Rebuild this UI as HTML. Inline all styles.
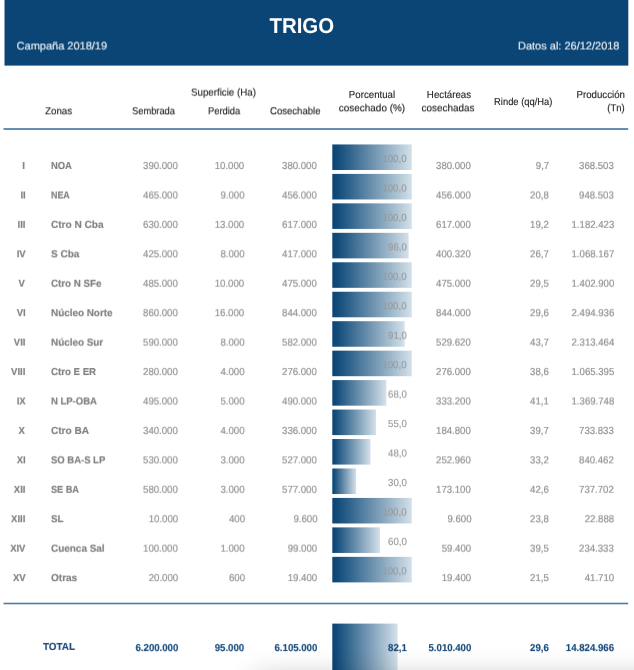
<!DOCTYPE html>
<html lang="es"><head><meta charset="utf-8"><title>TRIGO</title>
<style>
html,body{margin:0;padding:0;background:#fff;}
body{width:634px;height:670px;position:relative;overflow:hidden;text-rendering:geometricPrecision;font-family:"Liberation Sans",Arial,sans-serif;}
.bg{position:absolute;left:0;top:0;}
.txt{position:absolute;left:0;top:0;width:634px;height:670px;filter:blur(0.5px);}
.row{position:absolute;left:0;width:634px;height:14px;will-change:transform;}
.t{position:absolute;top:0;white-space:nowrap;line-height:14px;height:14px;font-size:10.2px;}
.title{left:0;width:603.6px;text-align:center;top:13.6px;font-size:21.4px;line-height:24px;height:24px;font-weight:bold;color:#fff;transform:scaleX(0.955);}
.sub{font-size:11px;color:#dfe7ee;-webkit-text-stroke:0.2px #dfe7ee;}
.h{color:#222;-webkit-text-stroke:0.12px #222;}
.d{color:#939393;-webkit-text-stroke:0.2px #939393;}
.bv{color:#999;-webkit-text-stroke:0.15px #999;}
.z{font-weight:bold;color:#7e7e7e;-webkit-text-stroke:0.15px #7e7e7e;}
.tot{font-weight:bold;color:#194b7b;-webkit-text-stroke:0.15px #194b7b;}
.shadow{position:absolute;left:255px;top:680px;width:600px;height:40px;box-shadow:0 0 30px rgba(0,0,0,0.3);}
</style></head><body>
<svg class="bg" width="634" height="670" viewBox="0 0 634 670"><defs><linearGradient id="g" x1="0" y1="0" x2="1" y2="0"><stop offset="0" stop-color="#0a4575"/><stop offset="0.06" stop-color="#0f4a79"/><stop offset="1" stop-color="#d4e1ea"/></linearGradient></defs>
<rect x="4.5" y="0" width="623.8" height="65.6" fill="#0a4575"/>
<rect x="3.5" y="128" width="624.7" height="2" fill="#6690b3"/>
<rect x="332.3" y="144.45" width="79.50" height="25.55" fill="url(#g)"/>
<rect x="332.3" y="173.91" width="79.50" height="25.55" fill="url(#g)"/>
<rect x="332.3" y="203.36" width="79.50" height="25.55" fill="url(#g)"/>
<rect x="332.3" y="232.82" width="76.32" height="25.55" fill="url(#g)"/>
<rect x="332.3" y="262.28" width="79.50" height="25.55" fill="url(#g)"/>
<rect x="332.3" y="291.74" width="79.50" height="25.55" fill="url(#g)"/>
<rect x="332.3" y="321.19" width="72.34" height="25.55" fill="url(#g)"/>
<rect x="332.3" y="350.65" width="79.50" height="25.55" fill="url(#g)"/>
<rect x="332.3" y="380.11" width="54.06" height="25.55" fill="url(#g)"/>
<rect x="332.3" y="409.56" width="43.73" height="25.55" fill="url(#g)"/>
<rect x="332.3" y="439.02" width="38.16" height="25.55" fill="url(#g)"/>
<rect x="332.3" y="468.48" width="23.85" height="25.55" fill="url(#g)"/>
<rect x="332.3" y="497.93" width="79.50" height="25.55" fill="url(#g)"/>
<rect x="332.3" y="527.39" width="47.70" height="25.55" fill="url(#g)"/>
<rect x="332.3" y="556.85" width="79.50" height="25.55" fill="url(#g)"/>
<rect x="3.5" y="602.7" width="624.7" height="1.6" fill="#4d7ca5"/>
<rect x="332.3" y="623.6" width="65.27" height="50" fill="url(#g)"/>
</svg>
<div class="txt">
<div class="t title">TRIGO</div>
<div class="row" style="top:39px;transform:translateY(0.50px) scale(0.9999)">
<div class="t sub" style="left:16.60px;transform-origin:0 50%;">Campaña 2018/19</div>
<div class="t sub" style="right:14.50px;transform-origin:100% 50%;">Datos al: 26/12/2018</div>
</div>
<div class="row" style="top:105px;transform:translateY(0.30px) scale(0.9999)">
<div class="t h" style="left:45.00px;transform-origin:0 50%;transform:scaleX(0.9595);">Zonas</div>
<div class="t h" style="left:132.20px;transform-origin:0 50%;transform:scaleX(0.9137);">Sembrada</div>
<div class="t h" style="left:208.10px;transform-origin:0 50%;transform:scaleX(0.9159);">Perdida</div>
<div class="t h" style="left:269.50px;transform-origin:0 50%;transform:scaleX(0.9375);">Cosechable</div>
</div>
<div class="row" style="top:86px;transform:translateY(0.60px) scale(0.9999)">
<div class="t h" style="left:190.60px;transform-origin:0 50%;transform:scaleX(0.9555);">Superficie (Ha)</div>
</div>
<div class="row" style="top:88px;transform:translateY(0.90px) scale(0.9999)">
<div class="t h" style="left:272.00px;width:200px;text-align:center;transform-origin:50% 50%;transform:scaleX(0.9495);">Porcentual</div>
<div class="t h" style="left:348.60px;width:200px;text-align:center;transform-origin:50% 50%;transform:scaleX(0.9529);">Hectáreas</div>
<div class="t h" style="right:9.40px;transform-origin:100% 50%;transform:scaleX(0.9524);">Producción</div>
</div>
<div class="row" style="top:102px;transform:translateY(0.30px) scale(0.9999)">
<div class="t h" style="left:271.50px;width:200px;text-align:center;transform-origin:50% 50%;transform:scaleX(0.9760);">cosechado (%)</div>
<div class="t h" style="left:347.90px;width:200px;text-align:center;transform-origin:50% 50%;transform:scaleX(0.9736);">cosechadas</div>
<div class="t h" style="right:9.40px;transform-origin:100% 50%;transform:scaleX(0.9306);">(Tn)</div>
</div>
<div class="row" style="top:96px;transform:translateY(0.00px) scale(0.9999)">
<div class="t h" style="right:81.40px;transform-origin:100% 50%;transform:scaleX(0.9197);">Rinde (qq/Ha)</div>
</div>
<div class="row" style="top:160px;transform:translateY(0.00px) scale(0.9999)">
<div class="t z" style="right:608.80px;transform-origin:100% 50%;transform:scaleX(0.9300);">I</div>
<div class="t z" style="left:50.60px;transform-origin:0 50%;transform:scaleX(0.9177);">NOA</div>
<div class="t d" style="right:456.10px;transform-origin:100% 50%;transform:scaleX(0.9450);">390.000</div>
<div class="t d" style="right:389.50px;transform-origin:100% 50%;transform:scaleX(0.9450);">10.000</div>
<div class="t d" style="right:316.90px;transform-origin:100% 50%;transform:scaleX(0.9450);">380.000</div>
<div class="t d" style="right:162.80px;transform-origin:100% 50%;transform:scaleX(0.9450);">380.000</div>
<div class="t d" style="right:85.30px;transform-origin:100% 50%;transform:scaleX(0.9450);">9,7</div>
<div class="t d" style="right:20.00px;transform-origin:100% 50%;transform:scaleX(0.9450);">368.503</div>
</div>
<div class="row" style="top:152px;transform:translateY(0.95px) scale(0.9999)">
<div class="t bv" style="right:227.20px;transform-origin:100% 50%;transform:scaleX(0.9450);">100,0</div>
</div>
<div class="row" style="top:189px;transform:translateY(0.44px) scale(0.9999)">
<div class="t z" style="right:608.80px;transform-origin:100% 50%;transform:scaleX(0.9300);">II</div>
<div class="t z" style="left:50.60px;transform-origin:0 50%;transform:scaleX(0.8730);">NEA</div>
<div class="t d" style="right:456.10px;transform-origin:100% 50%;transform:scaleX(0.9450);">465.000</div>
<div class="t d" style="right:389.50px;transform-origin:100% 50%;transform:scaleX(0.9450);">9.000</div>
<div class="t d" style="right:316.90px;transform-origin:100% 50%;transform:scaleX(0.9450);">456.000</div>
<div class="t d" style="right:162.80px;transform-origin:100% 50%;transform:scaleX(0.9450);">456.000</div>
<div class="t d" style="right:85.30px;transform-origin:100% 50%;transform:scaleX(0.9450);">20,8</div>
<div class="t d" style="right:20.00px;transform-origin:100% 50%;transform:scaleX(0.9450);">948.503</div>
</div>
<div class="row" style="top:182px;transform:translateY(0.41px) scale(0.9999)">
<div class="t bv" style="right:227.20px;transform-origin:100% 50%;transform:scaleX(0.9450);">100,0</div>
</div>
<div class="row" style="top:218px;transform:translateY(0.87px) scale(0.9999)">
<div class="t z" style="right:608.80px;transform-origin:100% 50%;transform:scaleX(0.9300);">III</div>
<div class="t z" style="left:50.60px;transform-origin:0 50%;transform:scaleX(0.9875);">Ctro N Cba</div>
<div class="t d" style="right:456.10px;transform-origin:100% 50%;transform:scaleX(0.9450);">630.000</div>
<div class="t d" style="right:389.50px;transform-origin:100% 50%;transform:scaleX(0.9450);">13.000</div>
<div class="t d" style="right:316.90px;transform-origin:100% 50%;transform:scaleX(0.9450);">617.000</div>
<div class="t d" style="right:162.80px;transform-origin:100% 50%;transform:scaleX(0.9450);">617.000</div>
<div class="t d" style="right:85.30px;transform-origin:100% 50%;transform:scaleX(0.9450);">19,2</div>
<div class="t d" style="right:20.00px;transform-origin:100% 50%;transform:scaleX(0.9450);">1.182.423</div>
</div>
<div class="row" style="top:211px;transform:translateY(0.86px) scale(0.9999)">
<div class="t bv" style="right:227.20px;transform-origin:100% 50%;transform:scaleX(0.9450);">100,0</div>
</div>
<div class="row" style="top:248px;transform:translateY(0.31px) scale(0.9999)">
<div class="t z" style="right:608.80px;transform-origin:100% 50%;transform:scaleX(0.9300);">IV</div>
<div class="t z" style="left:50.60px;transform-origin:0 50%;transform:scaleX(0.9825);">S Cba</div>
<div class="t d" style="right:456.10px;transform-origin:100% 50%;transform:scaleX(0.9450);">425.000</div>
<div class="t d" style="right:389.50px;transform-origin:100% 50%;transform:scaleX(0.9450);">8.000</div>
<div class="t d" style="right:316.90px;transform-origin:100% 50%;transform:scaleX(0.9450);">417.000</div>
<div class="t d" style="right:162.80px;transform-origin:100% 50%;transform:scaleX(0.9450);">400.320</div>
<div class="t d" style="right:85.30px;transform-origin:100% 50%;transform:scaleX(0.9450);">26,7</div>
<div class="t d" style="right:20.00px;transform-origin:100% 50%;transform:scaleX(0.9450);">1.068.167</div>
</div>
<div class="row" style="top:241px;transform:translateY(0.32px) scale(0.9999)">
<div class="t bv" style="right:227.20px;transform-origin:100% 50%;transform:scaleX(0.9450);">96,0</div>
</div>
<div class="row" style="top:277px;transform:translateY(0.74px) scale(0.9999)">
<div class="t z" style="right:608.80px;transform-origin:100% 50%;transform:scaleX(0.9300);">V</div>
<div class="t z" style="left:50.60px;transform-origin:0 50%;transform:scaleX(0.9582);">Ctro N SFe</div>
<div class="t d" style="right:456.10px;transform-origin:100% 50%;transform:scaleX(0.9450);">485.000</div>
<div class="t d" style="right:389.50px;transform-origin:100% 50%;transform:scaleX(0.9450);">10.000</div>
<div class="t d" style="right:316.90px;transform-origin:100% 50%;transform:scaleX(0.9450);">475.000</div>
<div class="t d" style="right:162.80px;transform-origin:100% 50%;transform:scaleX(0.9450);">475.000</div>
<div class="t d" style="right:85.30px;transform-origin:100% 50%;transform:scaleX(0.9450);">29,5</div>
<div class="t d" style="right:20.00px;transform-origin:100% 50%;transform:scaleX(0.9450);">1.402.900</div>
</div>
<div class="row" style="top:270px;transform:translateY(0.78px) scale(0.9999)">
<div class="t bv" style="right:227.20px;transform-origin:100% 50%;transform:scaleX(0.9450);">100,0</div>
</div>
<div class="row" style="top:307px;transform:translateY(0.18px) scale(0.9999)">
<div class="t z" style="right:608.80px;transform-origin:100% 50%;transform:scaleX(0.9300);">VI</div>
<div class="t z" style="left:50.60px;transform-origin:0 50%;transform:scaleX(0.9704);">Núcleo Norte</div>
<div class="t d" style="right:456.10px;transform-origin:100% 50%;transform:scaleX(0.9450);">860.000</div>
<div class="t d" style="right:389.50px;transform-origin:100% 50%;transform:scaleX(0.9450);">16.000</div>
<div class="t d" style="right:316.90px;transform-origin:100% 50%;transform:scaleX(0.9450);">844.000</div>
<div class="t d" style="right:162.80px;transform-origin:100% 50%;transform:scaleX(0.9450);">844.000</div>
<div class="t d" style="right:85.30px;transform-origin:100% 50%;transform:scaleX(0.9450);">29,6</div>
<div class="t d" style="right:20.00px;transform-origin:100% 50%;transform:scaleX(0.9450);">2.494.936</div>
</div>
<div class="row" style="top:300px;transform:translateY(0.24px) scale(0.9999)">
<div class="t bv" style="right:227.20px;transform-origin:100% 50%;transform:scaleX(0.9450);">100,0</div>
</div>
<div class="row" style="top:336px;transform:translateY(0.62px) scale(0.9999)">
<div class="t z" style="right:608.80px;transform-origin:100% 50%;transform:scaleX(0.9300);">VII</div>
<div class="t z" style="left:50.60px;transform-origin:0 50%;transform:scaleX(0.9695);">Núcleo Sur</div>
<div class="t d" style="right:456.10px;transform-origin:100% 50%;transform:scaleX(0.9450);">590.000</div>
<div class="t d" style="right:389.50px;transform-origin:100% 50%;transform:scaleX(0.9450);">8.000</div>
<div class="t d" style="right:316.90px;transform-origin:100% 50%;transform:scaleX(0.9450);">582.000</div>
<div class="t d" style="right:162.80px;transform-origin:100% 50%;transform:scaleX(0.9450);">529.620</div>
<div class="t d" style="right:85.30px;transform-origin:100% 50%;transform:scaleX(0.9450);">43,7</div>
<div class="t d" style="right:20.00px;transform-origin:100% 50%;transform:scaleX(0.9450);">2.313.464</div>
</div>
<div class="row" style="top:329px;transform:translateY(0.69px) scale(0.9999)">
<div class="t bv" style="right:227.20px;transform-origin:100% 50%;transform:scaleX(0.9450);">91,0</div>
</div>
<div class="row" style="top:366px;transform:translateY(0.05px) scale(0.9999)">
<div class="t z" style="right:608.80px;transform-origin:100% 50%;transform:scaleX(0.9300);">VIII</div>
<div class="t z" style="left:50.60px;transform-origin:0 50%;transform:scaleX(0.9474);">Ctro E ER</div>
<div class="t d" style="right:456.10px;transform-origin:100% 50%;transform:scaleX(0.9450);">280.000</div>
<div class="t d" style="right:389.50px;transform-origin:100% 50%;transform:scaleX(0.9450);">4.000</div>
<div class="t d" style="right:316.90px;transform-origin:100% 50%;transform:scaleX(0.9450);">276.000</div>
<div class="t d" style="right:162.80px;transform-origin:100% 50%;transform:scaleX(0.9450);">276.000</div>
<div class="t d" style="right:85.30px;transform-origin:100% 50%;transform:scaleX(0.9450);">38,6</div>
<div class="t d" style="right:20.00px;transform-origin:100% 50%;transform:scaleX(0.9450);">1.065.395</div>
</div>
<div class="row" style="top:359px;transform:translateY(0.15px) scale(0.9999)">
<div class="t bv" style="right:227.20px;transform-origin:100% 50%;transform:scaleX(0.9450);">100,0</div>
</div>
<div class="row" style="top:395px;transform:translateY(0.49px) scale(0.9999)">
<div class="t z" style="right:608.80px;transform-origin:100% 50%;transform:scaleX(0.9300);">IX</div>
<div class="t z" style="left:50.60px;transform-origin:0 50%;transform:scaleX(0.9311);">N LP-OBA</div>
<div class="t d" style="right:456.10px;transform-origin:100% 50%;transform:scaleX(0.9450);">495.000</div>
<div class="t d" style="right:389.50px;transform-origin:100% 50%;transform:scaleX(0.9450);">5.000</div>
<div class="t d" style="right:316.90px;transform-origin:100% 50%;transform:scaleX(0.9450);">490.000</div>
<div class="t d" style="right:162.80px;transform-origin:100% 50%;transform:scaleX(0.9450);">333.200</div>
<div class="t d" style="right:85.30px;transform-origin:100% 50%;transform:scaleX(0.9450);">41,1</div>
<div class="t d" style="right:20.00px;transform-origin:100% 50%;transform:scaleX(0.9450);">1.369.748</div>
</div>
<div class="row" style="top:388px;transform:translateY(0.61px) scale(0.9999)">
<div class="t bv" style="right:227.20px;transform-origin:100% 50%;transform:scaleX(0.9450);">68,0</div>
</div>
<div class="row" style="top:424px;transform:translateY(0.92px) scale(0.9999)">
<div class="t z" style="right:608.80px;transform-origin:100% 50%;transform:scaleX(0.9300);">X</div>
<div class="t z" style="left:50.60px;transform-origin:0 50%;transform:scaleX(0.9863);">Ctro BA</div>
<div class="t d" style="right:456.10px;transform-origin:100% 50%;transform:scaleX(0.9450);">340.000</div>
<div class="t d" style="right:389.50px;transform-origin:100% 50%;transform:scaleX(0.9450);">4.000</div>
<div class="t d" style="right:316.90px;transform-origin:100% 50%;transform:scaleX(0.9450);">336.000</div>
<div class="t d" style="right:162.80px;transform-origin:100% 50%;transform:scaleX(0.9450);">184.800</div>
<div class="t d" style="right:85.30px;transform-origin:100% 50%;transform:scaleX(0.9450);">39,7</div>
<div class="t d" style="right:20.00px;transform-origin:100% 50%;transform:scaleX(0.9450);">733.833</div>
</div>
<div class="row" style="top:418px;transform:translateY(0.06px) scale(0.9999)">
<div class="t bv" style="right:227.20px;transform-origin:100% 50%;transform:scaleX(0.9450);">55,0</div>
</div>
<div class="row" style="top:454px;transform:translateY(0.36px) scale(0.9999)">
<div class="t z" style="right:608.80px;transform-origin:100% 50%;transform:scaleX(0.9300);">XI</div>
<div class="t z" style="left:50.60px;transform-origin:0 50%;transform:scaleX(0.9302);">SO BA-S LP</div>
<div class="t d" style="right:456.10px;transform-origin:100% 50%;transform:scaleX(0.9450);">530.000</div>
<div class="t d" style="right:389.50px;transform-origin:100% 50%;transform:scaleX(0.9450);">3.000</div>
<div class="t d" style="right:316.90px;transform-origin:100% 50%;transform:scaleX(0.9450);">527.000</div>
<div class="t d" style="right:162.80px;transform-origin:100% 50%;transform:scaleX(0.9450);">252.960</div>
<div class="t d" style="right:85.30px;transform-origin:100% 50%;transform:scaleX(0.9450);">33,2</div>
<div class="t d" style="right:20.00px;transform-origin:100% 50%;transform:scaleX(0.9450);">840.462</div>
</div>
<div class="row" style="top:447px;transform:translateY(0.52px) scale(0.9999)">
<div class="t bv" style="right:227.20px;transform-origin:100% 50%;transform:scaleX(0.9450);">48,0</div>
</div>
<div class="row" style="top:483px;transform:translateY(0.80px) scale(0.9999)">
<div class="t z" style="right:608.80px;transform-origin:100% 50%;transform:scaleX(0.9300);">XII</div>
<div class="t z" style="left:50.60px;transform-origin:0 50%;transform:scaleX(0.8982);">SE BA</div>
<div class="t d" style="right:456.10px;transform-origin:100% 50%;transform:scaleX(0.9450);">580.000</div>
<div class="t d" style="right:389.50px;transform-origin:100% 50%;transform:scaleX(0.9450);">3.000</div>
<div class="t d" style="right:316.90px;transform-origin:100% 50%;transform:scaleX(0.9450);">577.000</div>
<div class="t d" style="right:162.80px;transform-origin:100% 50%;transform:scaleX(0.9450);">173.100</div>
<div class="t d" style="right:85.30px;transform-origin:100% 50%;transform:scaleX(0.9450);">42,6</div>
<div class="t d" style="right:20.00px;transform-origin:100% 50%;transform:scaleX(0.9450);">737.702</div>
</div>
<div class="row" style="top:476px;transform:translateY(0.98px) scale(0.9999)">
<div class="t bv" style="right:227.20px;transform-origin:100% 50%;transform:scaleX(0.9450);">30,0</div>
</div>
<div class="row" style="top:513px;transform:translateY(0.23px) scale(0.9999)">
<div class="t z" style="right:608.80px;transform-origin:100% 50%;transform:scaleX(0.9300);">XIII</div>
<div class="t z" style="left:50.60px;transform-origin:0 50%;transform:scaleX(0.9590);">SL</div>
<div class="t d" style="right:456.10px;transform-origin:100% 50%;transform:scaleX(0.9450);">10.000</div>
<div class="t d" style="right:389.50px;transform-origin:100% 50%;transform:scaleX(0.9450);">400</div>
<div class="t d" style="right:316.90px;transform-origin:100% 50%;transform:scaleX(0.9450);">9.600</div>
<div class="t d" style="right:162.80px;transform-origin:100% 50%;transform:scaleX(0.9450);">9.600</div>
<div class="t d" style="right:85.30px;transform-origin:100% 50%;transform:scaleX(0.9450);">23,8</div>
<div class="t d" style="right:20.00px;transform-origin:100% 50%;transform:scaleX(0.9450);">22.888</div>
</div>
<div class="row" style="top:506px;transform:translateY(0.43px) scale(0.9999)">
<div class="t bv" style="right:227.20px;transform-origin:100% 50%;transform:scaleX(0.9450);">100,0</div>
</div>
<div class="row" style="top:542px;transform:translateY(0.67px) scale(0.9999)">
<div class="t z" style="right:608.80px;transform-origin:100% 50%;transform:scaleX(0.9300);">XIV</div>
<div class="t z" style="left:50.60px;transform-origin:0 50%;transform:scaleX(0.9765);">Cuenca Sal</div>
<div class="t d" style="right:456.10px;transform-origin:100% 50%;transform:scaleX(0.9450);">100.000</div>
<div class="t d" style="right:389.50px;transform-origin:100% 50%;transform:scaleX(0.9450);">1.000</div>
<div class="t d" style="right:316.90px;transform-origin:100% 50%;transform:scaleX(0.9450);">99.000</div>
<div class="t d" style="right:162.80px;transform-origin:100% 50%;transform:scaleX(0.9450);">59.400</div>
<div class="t d" style="right:85.30px;transform-origin:100% 50%;transform:scaleX(0.9450);">39,5</div>
<div class="t d" style="right:20.00px;transform-origin:100% 50%;transform:scaleX(0.9450);">234.333</div>
</div>
<div class="row" style="top:535px;transform:translateY(0.89px) scale(0.9999)">
<div class="t bv" style="right:227.20px;transform-origin:100% 50%;transform:scaleX(0.9450);">60,0</div>
</div>
<div class="row" style="top:572px;transform:translateY(0.10px) scale(0.9999)">
<div class="t z" style="right:608.80px;transform-origin:100% 50%;transform:scaleX(0.9300);">XV</div>
<div class="t z" style="left:50.60px;transform-origin:0 50%;transform:scaleX(0.9833);">Otras</div>
<div class="t d" style="right:456.10px;transform-origin:100% 50%;transform:scaleX(0.9450);">20.000</div>
<div class="t d" style="right:389.50px;transform-origin:100% 50%;transform:scaleX(0.9450);">600</div>
<div class="t d" style="right:316.90px;transform-origin:100% 50%;transform:scaleX(0.9450);">19.400</div>
<div class="t d" style="right:162.80px;transform-origin:100% 50%;transform:scaleX(0.9450);">19.400</div>
<div class="t d" style="right:85.30px;transform-origin:100% 50%;transform:scaleX(0.9450);">21,5</div>
<div class="t d" style="right:20.00px;transform-origin:100% 50%;transform:scaleX(0.9450);">41.710</div>
</div>
<div class="row" style="top:565px;transform:translateY(0.35px) scale(0.9999)">
<div class="t bv" style="right:227.20px;transform-origin:100% 50%;transform:scaleX(0.9450);">100,0</div>
</div>
<div class="row" style="top:640px;transform:translateY(0.90px) scale(0.9999)">
<div class="t tot" style="left:43.00px;transform-origin:0 50%;transform:scaleX(0.9682);">TOTAL</div>
</div>
<div class="row" style="top:642px;transform:translateY(0.10px) scale(0.9999)">
<div class="t tot" style="right:456.10px;transform-origin:100% 50%;transform:scaleX(0.9450);">6.200.000</div>
<div class="t tot" style="right:389.50px;transform-origin:100% 50%;transform:scaleX(0.9450);">95.000</div>
<div class="t tot" style="right:316.90px;transform-origin:100% 50%;transform:scaleX(0.9450);">6.105.000</div>
<div class="t tot" style="right:227.00px;transform-origin:100% 50%;transform:scaleX(0.9450);">82,1</div>
<div class="t tot" style="right:162.80px;transform-origin:100% 50%;transform:scaleX(0.9450);">5.010.400</div>
<div class="t tot" style="right:85.30px;transform-origin:100% 50%;transform:scaleX(0.9450);">29,6</div>
<div class="t tot" style="right:20.00px;transform-origin:100% 50%;transform:scaleX(0.9450);">14.824.966</div>
</div>
</div>
<div class="shadow"></div>
</body></html>
